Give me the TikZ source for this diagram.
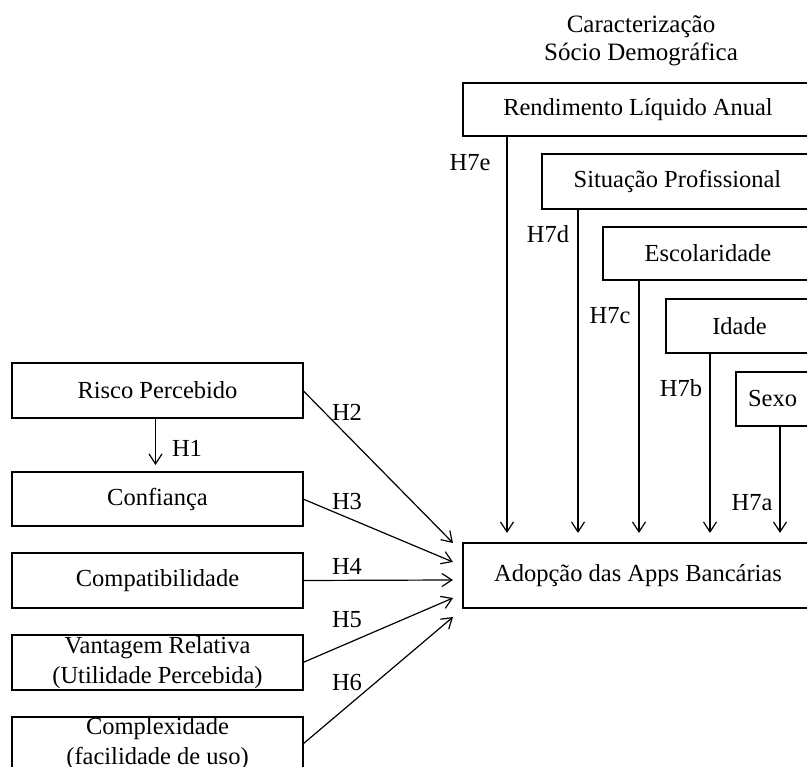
\documentclass[tikz,border=0pt]{standalone}
\usepackage{fontspec}
\setmainfont{Liberation Serif}
\usetikzlibrary{arrows.meta}
\begin{document}
\begin{tikzpicture}[x=1pt,y=-1pt,
  box/.style={draw, line width=2.8pt, rectangle, inner sep=0pt, outer sep=0pt, align=center,
    font=\fontsize{24.5}{30}\selectfont},
  lbl/.style={inner sep=0pt, font=\fontsize{24.5}{28}\selectfont},
  arr/.style={line width=1.2pt, -{Straight Barb[length=10pt,width=13pt,line width=1.2pt]}}]
\useasboundingbox (0,0) rectangle (807,767);
\clip (0,0) rectangle (807,767);
% title
\node[lbl, align=center, font=\fontsize{25}{28}\selectfont] (title) at (641,41) {Caracterização\\Sócio Demográfica};
% right boxes
\node[box, minimum width=350pt, minimum height=53pt] (rend) at (638,109.5) {Rendimento Líquido Anual};
\node[box, minimum width=271pt, minimum height=55pt] (sit) at (677.5,181.5) {Situação Profissional};
\node[box, minimum width=210pt, minimum height=53pt] (esc) at (708,253.5) {Escolaridade};
\node[box, minimum width=147pt, minimum height=54pt] (ida) at (739.5,326) {Idade};
\node[box, minimum width=77pt, minimum height=54pt] (sexo) at (774.5,399) {\hspace*{-4pt}Sexo};
\node[box, minimum width=350pt, minimum height=65pt] (adop) at (638,575.5) {Adopção das Apps Bancárias};
% left boxes
\node[box, minimum width=291pt, minimum height=55pt] (risco) at (157.5,390.5) {Risco Percebido};
\node[box, minimum width=291pt, minimum height=54pt] (conf) at (157.5,499) {Confiança};
\node[box, minimum width=291pt, minimum height=55pt] (compat) at (157.5,580.5) {Compatibilidade};
\node[box, minimum width=291pt, minimum height=55pt] (vant) at (157.5,662.5) {Vantagem Relativa\\(Utilidade Percebida)};
\node[box, minimum width=291pt, minimum height=54pt] (compl) at (157.5,744) {Complexidade\\(facilidade de uso)};
% vertical arrows from socio-demographic boxes
\draw[arr, shorten >=10pt] ([xshift=44pt]rend.south west) -- ([xshift=44pt]rend.south west |- adop.north);
\draw[arr, shorten >=10pt] ([xshift=36pt]sit.south west) -- ([xshift=36pt]sit.south west |- adop.north);
\draw[arr, shorten >=10pt] ([xshift=36pt]esc.south west) -- ([xshift=36pt]esc.south west |- adop.north);
\draw[arr, shorten >=10pt] ([xshift=44pt]ida.south west) -- ([xshift=44pt]ida.south west |- adop.north);
\draw[arr, shorten >=10pt] ([xshift=44pt]sexo.south west) -- ([xshift=44pt]sexo.south west |- adop.north);
% labels H7
\node[lbl] (h7e) at (470,163) {H7e};
\node[lbl] (h7d) at (548,234) {H7d};
\node[lbl] (h7c) at (610,316) {H7c};
\node[lbl] (h7b) at (681,388) {H7b};
\node[lbl] (h7a) at (752,503) {H7a};
% H1
\draw[arr, shorten >=7pt] ([xshift=-2pt]risco.south) -- ([xshift=-2pt]risco.south |- conf.north);
\node[lbl] (h1) at (187,448) {H1};
% arrows into adoption
\coordinate (t2) at (453,543);
\coordinate (t3) at (453,562);
\coordinate (t4) at (453,580);
\coordinate (t5) at (453,598);
\coordinate (t6) at (453,617);
\draw[arr] (risco.east) -- (t2);
\draw[arr] (conf.east) -- (t3);
\draw[arr] (compat.east) -- (t4);
\draw[arr] (vant.east) -- (t5);
\draw[arr] (compl.east) -- (t6);
\node[lbl] (h2) at (347,412) {H2};
\node[lbl] (h3) at (347,502) {H3};
\node[lbl] (h4) at (347,566) {H4};
\node[lbl] (h5) at (347,620) {H5};
\node[lbl] (h6) at (347,683) {H6};
\end{tikzpicture}
\end{document}
